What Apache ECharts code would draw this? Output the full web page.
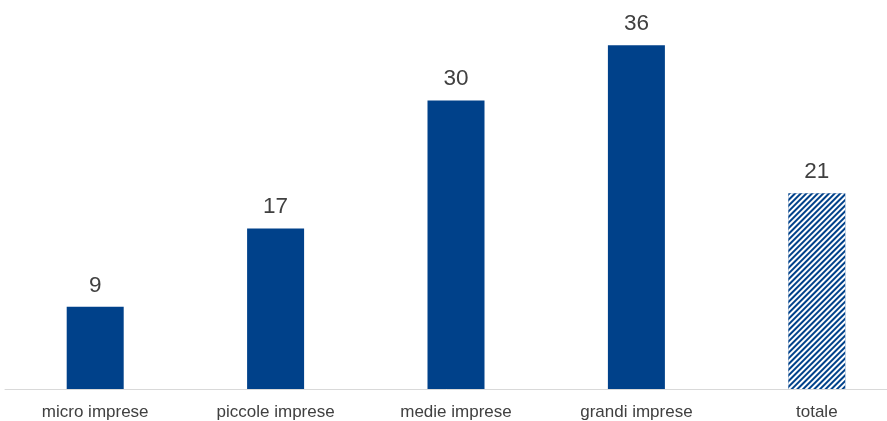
<!DOCTYPE html>
<html><head><meta charset="utf-8">
<script src="https://cdn.jsdelivr.net/npm/echarts@6/dist/echarts.min.js"></script>
<style>html,body{margin:0;padding:0;background:#fff}#c{width:887px;height:421px}</style>
</head><body><div id="c"></div>
<script>
var categories = ['micro imprese', 'piccole imprese', 'medie imprese', 'grandi imprese', 'totale'];
var values = [8.6, 16.8, 30.2, 36.0, 20.5];
var hatchedIndex = 4;

var BLUE = '#00418A';
var data = values.map(function (v, i) {
  var item = { value: v };
  if (i === hatchedIndex) {
    item.itemStyle = {
      color: BLUE,
      decal: { symbol: 'rect', color: '#ffffff', dashArrayX: [1, 0], dashArrayY: [2, 1.6], rotation: -Math.PI / 4, symbolSize: 1 }
    };
  }
  return item;
});

var chart = echarts.init(document.getElementById('c'));
chart.setOption({
  animation: false,
  grid: { left: 5, width: 902, top: 7, bottom: 32, containLabel: false, outerBoundsMode: 'none' },
  xAxis: {
    type: 'category', data: categories,
    axisLine: { show: true, lineStyle: { color: '#D9D9D9', width: 1 } },
    axisTick: { show: false },
    axisLabel: { color: '#404040', fontSize: 17, fontFamily: 'Liberation Sans, Arial, sans-serif', margin: 15 }
  },
  yAxis: { type: 'value', min: 0, max: 40, show: false, splitLine: { show: false } },
  series: [{
    type: 'bar', data: data, barWidth: 57,
    itemStyle: { color: BLUE },
    label: {
      show: true, position: 'top', distance: 10,
      color: '#404040', fontSize: 22.5, fontFamily: 'Liberation Sans, Arial, sans-serif',
      formatter: function (p) { return Math.round(p.value).toString(); }
    }
  }]
});
</script></body></html>
